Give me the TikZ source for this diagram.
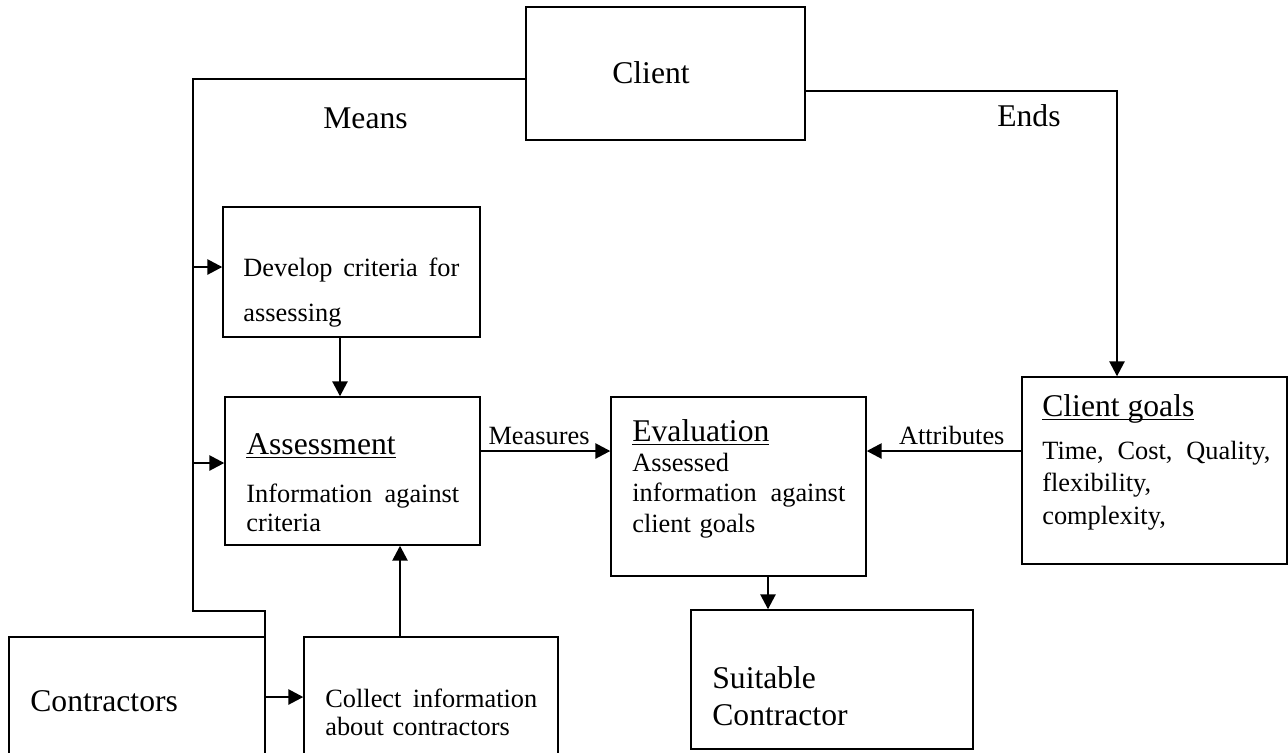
\documentclass[tikz,border=0pt]{standalone}
\usepackage{fontspec}
\setmainfont{Liberation Serif}
\usetikzlibrary{arrows.meta,positioning}
\newcommand{\ulhead}[1]{\setbox0\hbox{#1}\rlap{\rule[-2.4pt]{\wd0}{0.75pt}}\box0}
\tikzset{
  box/.style={draw,line width=0.8pt,inner sep=0pt},
  link/.style={line width=1.5pt},
  linkarrow/.style={link,-{Triangle[length=8.5pt,width=8.5pt]}},
  headtext/.style={anchor=base west,inner sep=0pt,font=\fontsize{18}{21.5}\selectfont},
  bodytext/.style={anchor=base west,inner sep=0pt,align=left,font=\fontsize{15}{#1}\selectfont},
  bodytext/.default=17.5,
  arrowlabel/.style={above=3pt,inner sep=0pt,font=\fontsize{15}{18}\selectfont}
}
\begin{document}
\begin{tikzpicture}[x=0.02cm,y=-0.02cm]
\useasboundingbox (0,0) rectangle (1288,752);
\clip (0,0) rectangle (1288,752);
% boxes
\node[box,minimum width=5.58cm,minimum height=2.66cm] (client) at (665.5,73.5) {};
\node[box,minimum width=5.14cm,minimum height=2.6cm] (develop) at (351.5,272) {};
\node[box,minimum width=5.10cm,minimum height=2.96cm] (assess) at (352.5,471) {};
\node[box,minimum width=5.10cm,minimum height=3.58cm] (eval) at (738.5,486.5) {};
\node[box,minimum width=5.30cm,minimum height=3.74cm] (goals) at (1154.5,470.5) {};
\node[box,minimum width=5.64cm,minimum height=2.78cm] (suitable) at (832,679.5) {};
\node[box,minimum width=5.12cm,minimum height=3.26cm] (contractors) at (137,718.5) {};
\node[box,minimum width=5.08cm,minimum height=3.26cm] (collect) at (431,718.5) {};
% texts
\node[headtext] (clienttxt) at (612,83) {Client};
\node[headtext] (meanstxt) at (323,128) {Means};
\node[headtext] (endstxt) at (997,126) {Ends};
\node[bodytext=26,text width=4.32cm] (developtxt) at (243,276) {Develop\hfill criteria\hfill for\\assessing};
\node[headtext] (assesshead) at (246,454) {\ulhead{Assessment}};
\node[bodytext=16.5,text width=4.26cm] (assesstxt) at (246,502) {Information\hfill against\\criteria};
\node[headtext] (evalhead) at (632,441) {\ulhead{Evaluation}};
\node[bodytext=17.6,text width=4.26cm] (evaltxt) at (632,471) {Assessed\\information\hfill against\\client goals};
\node[headtext] (goalshead) at (1042,416) {\ulhead{Client goals}};
\node[bodytext=18.7,text width=4.56cm] (goalstxt) at (1042,459) {Time,\hfill Cost,\hfill Quality,\\flexibility,\\complexity,};
\node[headtext,align=left,text width=4cm,font=\fontsize{18}{21.5}\selectfont] (suitabletxt) at (712,688) {Suitable\\Contractor};
\node[headtext] (contractorstxt) at (30,711) {Contractors};
\node[bodytext=16.4,text width=4.24cm] (collecttxt) at (325,707) {Collect\hfill information\\about contractors};
% means side
\coordinate (bustop) at (193,79);
\coordinate (busjog) at (193,611);
\coordinate (busend) at (265,710);
\draw[link] (bustop -| client.west) -- (bustop) -- (busjog) -- (busjog -| busend) -- (busend);
\coordinate (todevelop) at (193,267);
\coordinate (toassess) at (193,463);
\coordinate (tocollect) at (265,697);
\draw[linkarrow] (todevelop) -- (todevelop -| develop.west);
\draw[linkarrow] (toassess) -- (toassess -| assess.west);
\draw[linkarrow] (tocollect) -- (tocollect -| collect.west);
% ends side
\coordinate (endsturn) at (1117,91);
\draw[linkarrow] (endsturn -| client.east) -- (endsturn) -- (endsturn |- goals.north);
% vertical links
\coordinate (devcol) at (340,0);
\coordinate (colcol) at (400,0);
\coordinate (evalcol) at (768,0);
\draw[linkarrow] (devcol |- develop.south) -- (devcol |- assess.north);
\draw[linkarrow] (colcol |- collect.north) -- (colcol |- assess.south);
\draw[linkarrow] (evalcol |- eval.south) -- (evalcol |- suitable.north);
% measures and attributes
\coordinate (midrow) at (0,451);
\draw[linkarrow] (midrow -| assess.east) -- node[arrowlabel,pos=0.45] {Measures} (midrow -| eval.west);
\draw[linkarrow] (midrow -| goals.west) -- node[arrowlabel,pos=0.45] {Attributes} (midrow -| eval.east);
\end{tikzpicture}
\end{document}
